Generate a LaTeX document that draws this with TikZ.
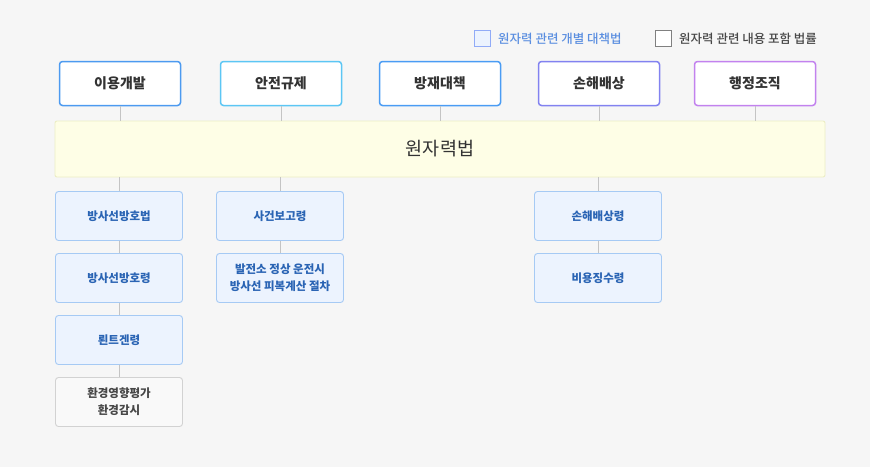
\documentclass[tikz,border=0pt]{standalone}
\usepackage{fontspec}
\setmainfont{Noto Sans CJK KR}
\newfontfamily\krmed{Noto Sans CJK KR Medium}
\definecolor{bgc}{HTML}{F6F6F6}
\definecolor{lawfill}{HTML}{ECF3FE}
\definecolor{lawdraw}{HTML}{A6CAF4}
\definecolor{lawtext}{HTML}{2A64B4}
\definecolor{grayfill}{HTML}{F9F9F9}
\definecolor{graydraw}{HTML}{D2D2D2}
\definecolor{linec}{HTML}{C4C4C4}
\definecolor{barfill}{HTML}{FEFEE6}
\definecolor{bardraw}{HTML}{ECEEC4}
\definecolor{cA}{HTML}{4C9AF0}
\definecolor{cB}{HTML}{5CC6F4}
\definecolor{cC}{HTML}{4A9CF4}
\definecolor{cD}{HTML}{8282F0}
\definecolor{cE}{HTML}{C282EE}
\definecolor{darkt}{HTML}{333333}
\definecolor{legblue}{HTML}{5A8EE0}
\begin{document}
\begin{tikzpicture}[x=1pt,y=-1pt,
  topbox/.style={draw=#1, line width=1.5pt, fill=white, rounded corners=3pt, minimum width=121pt, minimum height=44pt, inner sep=0pt, font=\fontsize{14}{16}\selectfont\bfseries, text=darkt},
  lawbox/.style={draw=lawdraw, line width=0.9pt, fill=lawfill, rounded corners=3pt, minimum width=127pt, minimum height=49pt, inner sep=0pt, align=center, font=\fontsize{11.5}{17}\selectfont\bfseries, text=lawtext},
  graybox/.style={draw=graydraw, line width=0.9pt, fill=grayfill, rounded corners=3pt, minimum width=127pt, minimum height=49pt, inner sep=0pt, align=center, font=\fontsize{11.5}{17}\selectfont\bfseries, text=darkt!90},
  conn/.style={draw=linec, line width=0.9pt}
]
\fill[bgc] (0,0) rectangle (870,467);
\useasboundingbox (0,0) rectangle (870,467);

% legend
\node[draw=lawdraw!80!blue!90, fill=lawfill, line width=1.4pt, minimum size=16pt, inner sep=0pt] (lg1) at (482.5,38.5) {};
\node[anchor=west, font=\krmed\fontsize{12.5}{14}\selectfont, text=legblue, inner sep=0pt] (lt1) at (498,38.5) {원자력 관련 개별 대책법};
\node[draw=gray, fill=white, line width=1.4pt, minimum size=16pt, inner sep=0pt] (lg2) at (663.5,38.5) {};
\node[anchor=west, font=\krmed\fontsize{12.5}{14}\selectfont, text=darkt!90, inner sep=0pt] (lt2) at (679,38.5) {원자력 관련 내용 포함 법률};

% top boxes
\node[topbox=cA] (t1) at (120,83.5) {이용개발};
\node[topbox=cB] (t2) at (281,83.5) {안전규제};
\node[topbox=cC] (t3) at (440,83.5) {방재대책};
\node[topbox=cD] (t4) at (599,83.5) {손해배상};
\node[topbox=cE] (t5) at (755,83.5) {행정조직};

% bar
\node[draw=bardraw, fill=barfill, line width=0.9pt, rounded corners=2pt, minimum width=770pt, minimum height=56pt, inner sep=0pt, font=\fontsize{18.5}{20}\selectfont, text=darkt] (bar) at (440,149) {원자력법};

\foreach \t in {t1,t2,t3,t4,t5} {
  \draw[conn] (\t.south) -- (\t.south |- bar.north);
}

% lower boxes
\node[lawbox] (a1) at (119,216) {방사선방호법};
\node[lawbox] (a2) at (119,278) {방사선방호령};
\node[lawbox] (a3) at (119,340) {뢴트겐령};
\node[graybox] (a4) at (119,402) {환경영향평가\\환경감시};
\node[lawbox] (b1) at (280,216) {사건보고령};
\node[lawbox] (b2) at (280,278) {발전소 정상 운전시\\방사선 피복계산 절차};
\node[lawbox] (c1) at (598,216) {손해배상령};
\node[lawbox] (c2) at (598,278) {비용징수령};

\draw[conn] (a1.north |- bar.south) -- (a1.north);
\draw[conn] (b1.north |- bar.south) -- (b1.north);
\draw[conn] (c1.north |- bar.south) -- (c1.north);
\draw[conn] (a1) -- (a2);
\draw[conn] (a2) -- (a3);
\draw[conn] (a3) -- (a4);
\draw[conn] (b1) -- (b2);
\draw[conn] (c1) -- (c2);
\end{tikzpicture}
\end{document}
